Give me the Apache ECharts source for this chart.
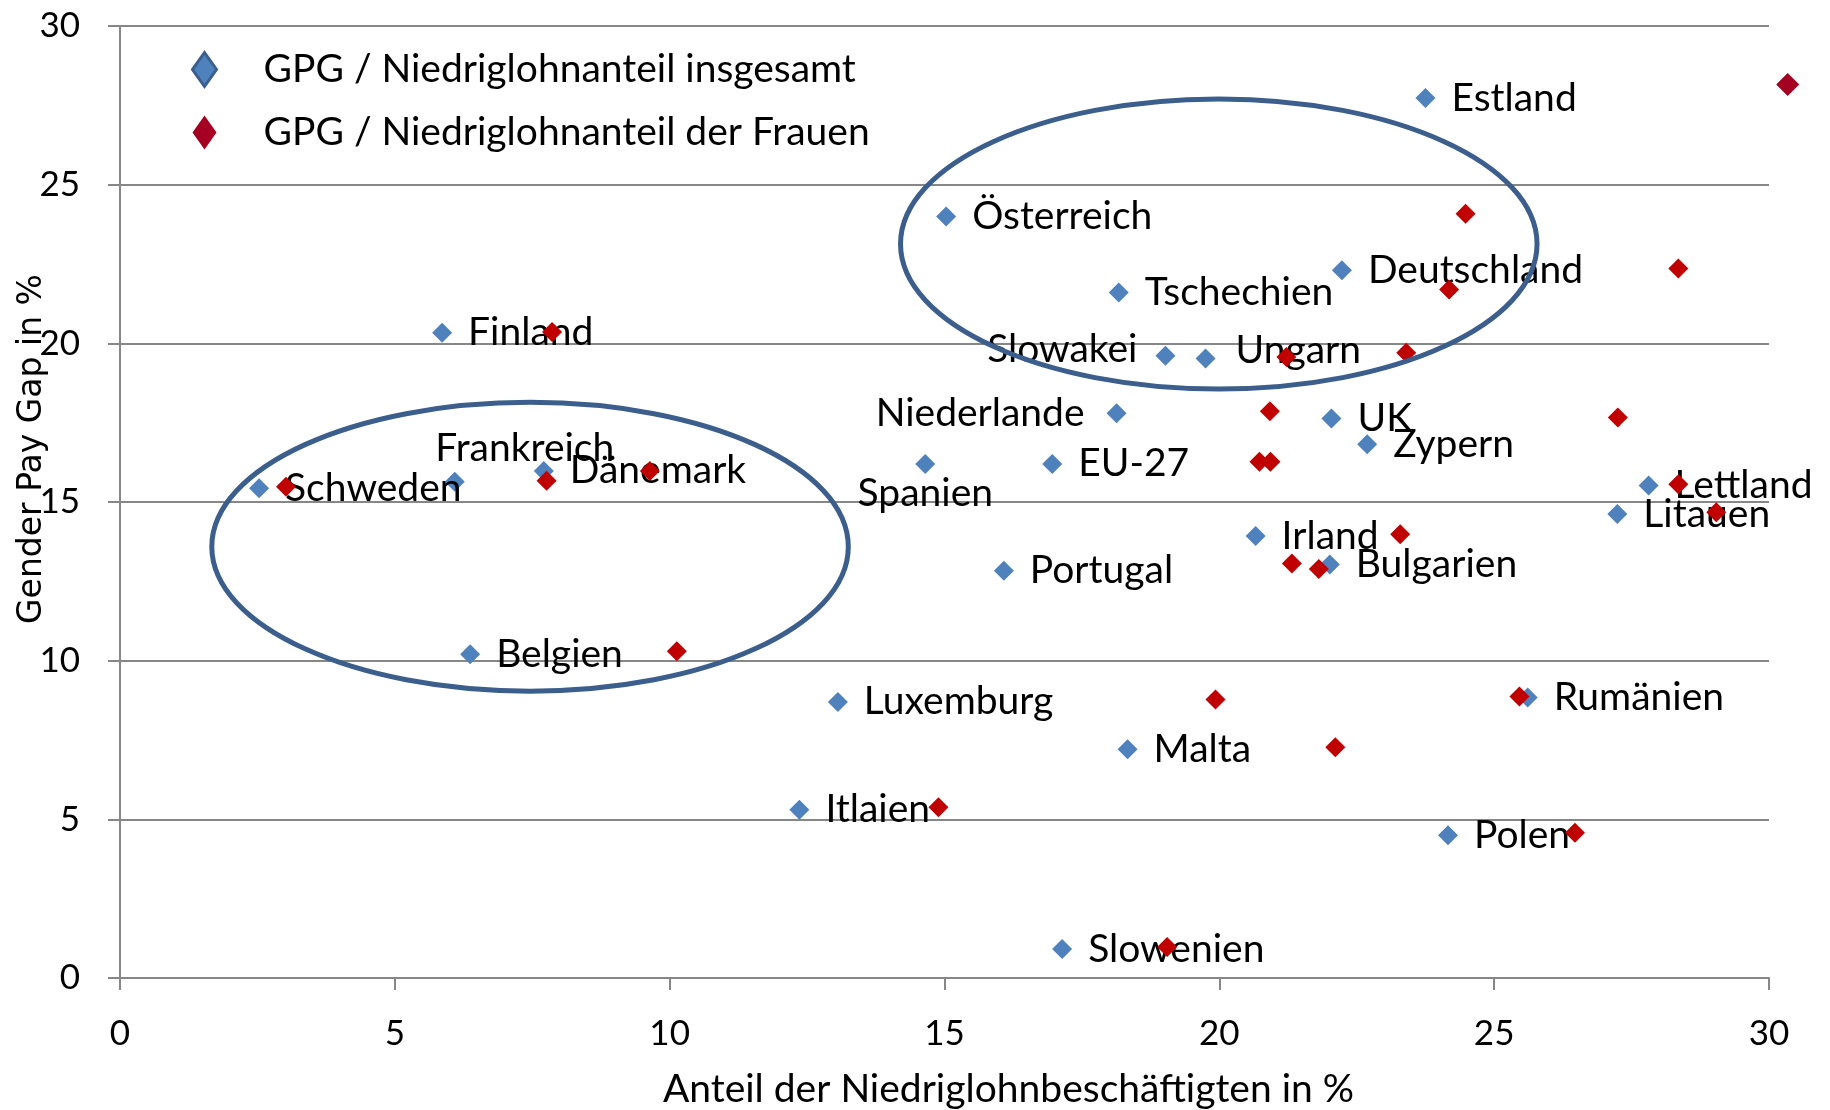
<!DOCTYPE html>
<html lang="de">
<head>
<meta charset="UTF-8">
<title>Gender Pay Gap und Niedriglohnanteil</title>
<script src="https://cdn.jsdelivr.net/npm/echarts@6/dist/echarts.min.js"></script>
<style>
    html, body {
        margin: 0;
        padding: 0;
        background: #fff;
    }
    #chart {
        width: 1830px;
        height: 1110px;
    }
</style>
</head>
<body>
<div id="chart"></div>
<script>
    // Reihe "insgesamt" (beschriftet)
    const countries = ['Estland', 'Österreich', 'Deutschland', 'Tschechien', 'Finland', 'Slowakei', 'Ungarn',
        'Niederlande', 'UK', 'Zypern', 'Spanien', 'EU-27', 'Frankreich', 'Dänemark', 'Schweden', 'Lettland',
        'Litauen', 'Irland', 'Bulgarien', 'Portugal', 'Belgien', 'Luxemburg', 'Rumänien', 'Malta', 'Itlaien',
        'Polen', 'Slowenien'];
    const lowPayShareTotal = [23.75, 15.03, 22.23, 18.17, 5.86, 19.02, 19.75, 18.13, 22.04, 22.69, 14.65, 16.96,
        6.09, 7.71, 2.53, 27.81, 27.24, 20.66, 22.01, 16.08, 6.37, 13.06, 25.61, 18.33, 12.36, 24.16, 17.14];
    const gapTotal = [27.73, 24.0, 22.3, 21.6, 20.33, 19.61, 19.52, 17.8, 17.63, 16.82, 16.2, 16.2,
        15.64, 15.98, 15.43, 15.52, 14.62, 13.93, 13.03, 12.83, 10.2, 8.7, 8.84, 7.21, 5.3, 4.5, 0.91];

    // Reihe "der Frauen" (unbeschriftet)
    const lowPayShareWomen = [30.34, 24.48, 28.35, 24.18, 7.86, 21.22, 23.40, 20.92, 27.25, 20.73, 20.93, 9.64,
        7.76, 3.02, 28.35, 29.04, 23.29, 21.32, 21.81, 10.13, 19.93, 25.46, 22.11, 14.89, 26.47, 19.05];
    const gapWomen = [28.16, 24.08, 22.36, 21.7, 20.36, 19.57, 19.70, 17.86, 17.66, 16.27, 16.27, 15.98,
        15.67, 15.48, 15.56, 14.68, 13.98, 13.06, 12.89, 10.3, 8.78, 8.87, 7.27, 5.38, 4.58, 0.98];

    // markierte Gruppen: Mittelpunkt und Halbachsen in Achseneinheiten
    const groupCenters = [[7.46, 13.59], [19.99, 23.13]];
    const groupRadii = [[5.79, 4.55], [5.79, 4.57]];

    const seriesNames = ['GPG / Niedriglohnanteil insgesamt', 'GPG / Niedriglohnanteil der Frauen'];

    // Beschriftungen, die nicht rechts vom Punkt stehen
    const labelTweaks = {
        'Slowakei': {position: 'left', distance: 18, offset: [0, -6]},
        'Niederlande': {position: 'left', distance: 22},
        'Ungarn': {distance: 20, offset: [0, -8]},
        'Spanien': {position: 'bottom', distance: 0},
        'Frankreich': {position: 'top', distance: 4, offset: [70, 0]}
    };

    const FONT = 'Lato';
    const GRID_COLOR = '#878787';

    let chart = echarts.init(document.getElementById('chart'));

    let option = {
        animation: false,
        grid: {
            left: 120,
            right: 61,
            top: 26,
            bottom: 132,
            containLabel: false,
            outerBoundsMode: 'none'
        },
        legend: {
            orient: 'vertical',
            left: 186,
            top: 44,
            itemWidth: 24,
            itemHeight: 34,
            itemGap: 22,
            icon: 'diamond',
            selectedMode: false,
            textStyle: {
                fontFamily: FONT,
                fontSize: 39,
                color: '#000',
                lineHeight: 41,
                padding: [0, 0, 0, 42]
            },
            data: [
                {name: seriesNames[0], itemStyle: {color: '#4F81BD', borderColor: '#3A5F8F', borderWidth: 3, opacity: 1}},
                {name: seriesNames[1], itemStyle: {color: '#A50021', borderColor: '#A50021', borderWidth: 0, opacity: 1}}
            ]
        },
        xAxis: {
            type: 'value',
            min: 0,
            max: 30,
            interval: 5,
            name: 'Anteil der Niedriglohnbeschäftigten in %',
            nameLocation: 'middle',
            nameGap: 92,
            nameTextStyle: {
                fontFamily: FONT,
                fontSize: 39,
                color: '#000',
                padding: [0, 0, 0, 128]
            },
            axisLine: {show: true, lineStyle: {color: GRID_COLOR, width: 2}},
            axisTick: {show: true, length: 12, lineStyle: {color: GRID_COLOR, width: 2}},
            axisLabel: {
                margin: 38,
                fontFamily: FONT,
                fontSize: 35,
                color: '#000'
            },
            splitLine: {show: false}
        },
        yAxis: {
            type: 'value',
            min: 0,
            max: 30,
            interval: 5,
            name: 'Gender Pay Gap in %',
            nameLocation: 'middle',
            nameGap: 71,
            nameMoveOverlap: false,
            nameTextStyle: {
                fontFamily: 'DejaVu Sans',
                fontSize: 33,
                color: '#000',
                padding: [0, 0, 0, 106]
            },
            axisLine: {show: true, lineStyle: {color: GRID_COLOR, width: 2}},
            axisTick: {show: true, length: 12, lineStyle: {color: GRID_COLOR, width: 2}},
            axisLabel: {
                margin: 40,
                fontFamily: FONT,
                fontSize: 35,
                color: '#000'
            },
            splitLine: {show: true, lineStyle: {color: GRID_COLOR, width: 2}}
        },
        series: [
            {
                name: seriesNames[0],
                type: 'scatter',
                symbol: 'diamond',
                symbolSize: 20,
                z: 2,
                itemStyle: {color: '#4F81BD', opacity: 1},
                label: {
                    show: true,
                    position: 'right',
                    distance: 16,
                    formatter: '{b}',
                    fontFamily: FONT,
                    fontSize: 39,
                    color: '#000'
                },
                emphasis: {disabled: true},
                data: countries.map(function (name, i) {
                    let item = {name: name, value: [lowPayShareTotal[i], gapTotal[i]]};
                    if (labelTweaks[name]) {
                        item.label = labelTweaks[name];
                    }
                    return item;
                })
            },
            {
                name: seriesNames[1],
                type: 'scatter',
                symbol: 'diamond',
                symbolSize: 20,
                z: 3,
                clip: false,
                itemStyle: {color: '#C00000', opacity: 1},
                emphasis: {disabled: true},
                data: lowPayShareWomen.map(function (x, i) {
                    let item = {value: [x, gapWomen[i]]};
                    // Punkt ausserhalb der Achse wie in der Vorlage dunkler und etwas grösser
                    if (i === 0) {
                        item.symbolSize = 23;
                        item.itemStyle = {color: '#A50021', opacity: 1};
                    }
                    return item;
                })
            }
        ]
    };

    chart.setOption(option);

    // Ellipsen um die beiden Ländergruppen, über die Achsen in Pixel umgerechnet
    let ellipses = groupCenters.map(function (c, i) {
        let p = chart.convertToPixel({gridIndex: 0}, c);
        let q = chart.convertToPixel({gridIndex: 0}, [c[0] + groupRadii[i][0], c[1] + groupRadii[i][1]]);
        return {
            type: 'ellipse',
            silent: true,
            z: 10,
            shape: {
                cx: p[0],
                cy: p[1],
                rx: Math.abs(q[0] - p[0]),
                ry: Math.abs(q[1] - p[1])
            },
            style: {
                fill: 'none',
                stroke: '#3B5E8C',
                lineWidth: 5
            }
        };
    });
    chart.setOption({graphic: ellipses});
</script>
</body>
</html>
